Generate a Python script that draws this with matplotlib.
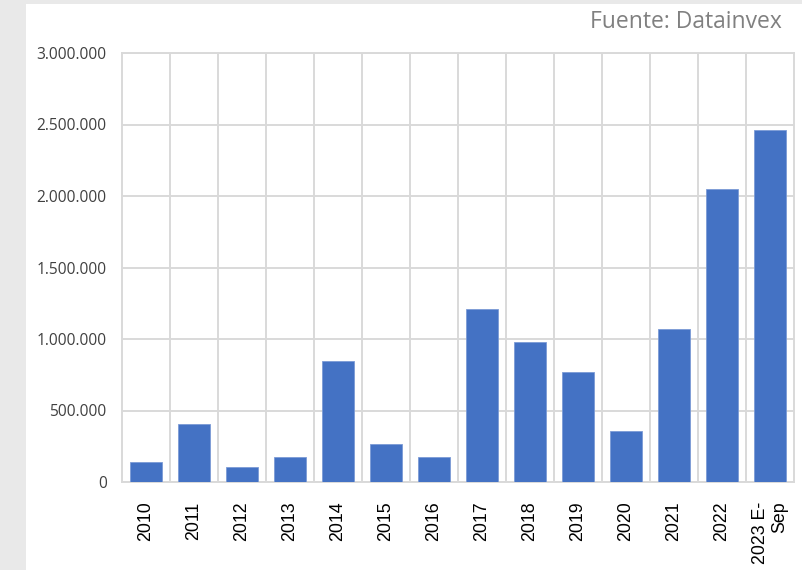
# Inversión por año - Fuente: Datainvex

import numpy as np
import matplotlib.pyplot as plt
from matplotlib.patches import Rectangle
from matplotlib.ticker import FuncFormatter, MultipleLocator

# ------------------------------------------------------------
# Data
# ------------------------------------------------------------
years = ["2010", "2011", "2012", "2013", "2014", "2015", "2016",
         "2017", "2018", "2019", "2020", "2021", "2022", "2023 E-\nSep"]
values = [140000, 407000, 103000, 178000, 848000, 265000, 178000,
          1211000, 979000, 768000, 356000, 1072000, 2046000, 2463000]

bar_color = "#4472C4"
grid_color = "#d9d9d9"

# ------------------------------------------------------------
# Figure
# ------------------------------------------------------------
fig = plt.figure(figsize=(8.02, 5.70), dpi=100)
fig.patch.set_facecolor("#e9e9e9")

# white slide panel (behind the axes)
fig.patches.append(Rectangle((26 / 802, 0), 1, 1 - 4 / 570, transform=fig.transFigure,
                             facecolor="white", edgecolor="none", zorder=-10))

ax = fig.add_axes([122 / 802, 1 - 482 / 570, 672 / 802, 429 / 570])
ax.set_facecolor("white")

x = np.arange(len(years))
ax.bar(x, values, width=0.667, color=bar_color, edgecolor="#7b9bd6",
       linewidth=0.6, zorder=3)

ax.set_xlim(-0.5, len(years) - 0.5)
ax.set_ylim(0, 3000000)
ax.yaxis.set_major_locator(MultipleLocator(500000))
ax.yaxis.set_major_formatter(FuncFormatter(lambda v, p: f"{int(v):,}".replace(",", ".")))

# horizontal grid + vertical lines between categories
ax.grid(axis="y", color=grid_color, linewidth=1.4, zorder=0)
for b in np.arange(0.5, len(years) - 1, 1.0):
    ax.axvline(b, color=grid_color, linewidth=1.4, zorder=0)

for s in ax.spines.values():
    s.set_color(grid_color)
    s.set_linewidth(1.4)

ax.set_xticks(x)
ax.set_xticklabels(years, rotation=90, fontsize=12.8, family="Liberation Sans",
                   color="#000000", va="top", ha="center", multialignment="right")
ax.tick_params(axis="x", length=0, pad=14)
ax.tick_params(axis="y", length=0, pad=11, labelsize=11.2, labelcolor="#404040",
               labelfontfamily="Open Sans")

fig.text(782 / 802, 1 - 22 / 570, "Fuente: Datainvex", ha="right", va="center",
         fontsize=16.5, color="#808080", family="Open Sans")

fig.savefig("out.png", dpi=100, facecolor=fig.get_facecolor())
